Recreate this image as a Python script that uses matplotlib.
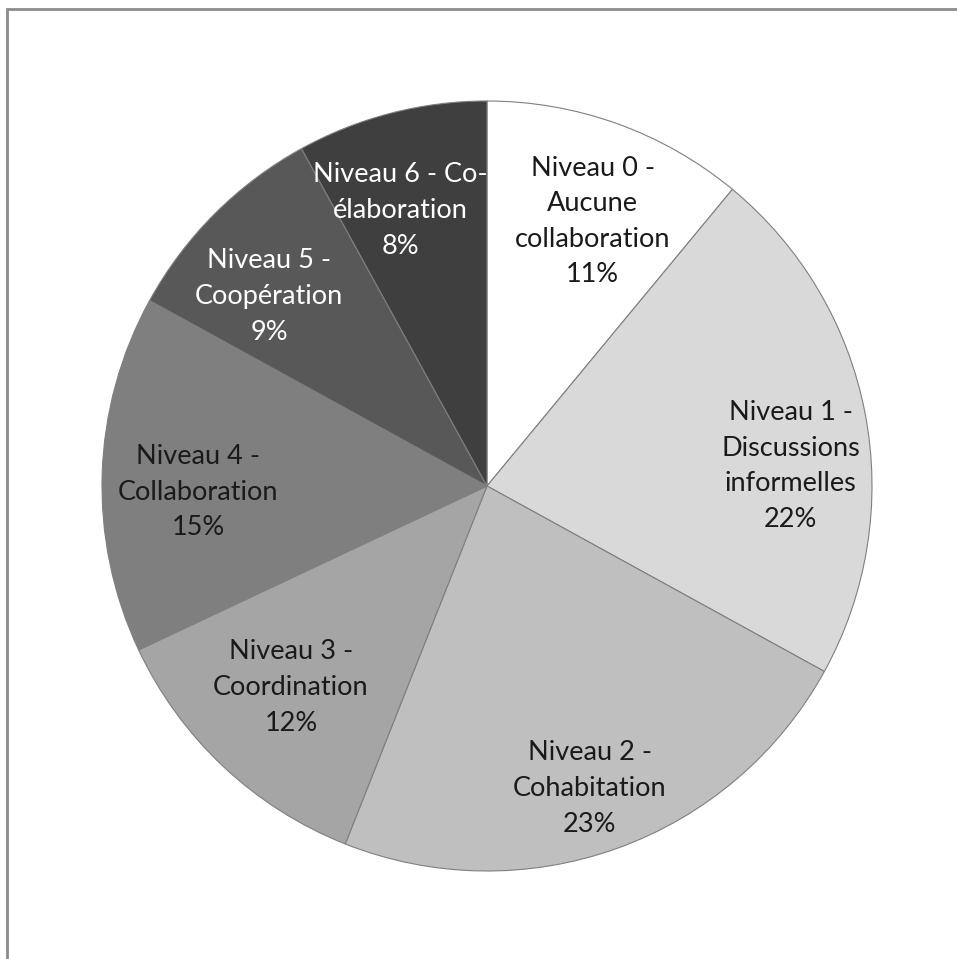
import numpy as np
import matplotlib
matplotlib.use("Agg")
import matplotlib.pyplot as plt
from matplotlib.patches import Rectangle

# === Données
niveaux = ["Niveau 0 -\nAucune\ncollaboration",
           "Niveau 1 -\nDiscussions\ninformelles",
           "Niveau 2 -\nCohabitation",
           "Niveau 3 -\nCoordination",
           "Niveau 4 -\nCollaboration",
           "Niveau 5 -\nCoopération",
           "Niveau 6 - Co-\nélaboration"]
pourcentages = [11, 22, 23, 12, 15, 9, 8]
couleurs = ["#ffffff", "#d9d9d9", "#bfbfbf", "#a5a5a5", "#7f7f7f", "#585858", "#3f3f3f"]
couleurs_texte = ["#1a1a1a", "#1a1a1a", "#1a1a1a", "#1a1a1a", "#1a1a1a", "#ffffff", "#ffffff"]

# position des étiquettes (fraction du rayon, décalage d'angle en degrés)
dist_label = [0.74, 0.79, 0.83, 0.73, 0.75, 0.75, 0.75]
decal_angle = [-2, -7, -1, -1, 3, 4, 3]

plt.rcParams['font.family'] = ['Lato', 'DejaVu Sans']

fig = plt.figure(figsize=(9.57, 9.59), dpi=100)
W, H = 957, 959
cx, cy, r = 487, 486, 385
ax = fig.add_axes([(cx - r) / W, (H - cy - r) / H, 2 * r / W, 2 * r / H])

wedges, _ = ax.pie(pourcentages, colors=couleurs, startangle=90, counterclock=False,
                   wedgeprops=dict(edgecolor="#7f7f7f", linewidth=0.8))

for w, lab, p, tc, d, da in zip(wedges, niveaux, pourcentages, couleurs_texte, dist_label, decal_angle):
    ang = np.deg2rad((w.theta1 + w.theta2) / 2 + da)
    ax.text(d * np.cos(ang), d * np.sin(ang), f"{lab}\n{p}%", ha="center", va="center",
            fontsize=19.5, color=tc, linespacing=1.53)

ax.set_xlim(-1, 1)
ax.set_ylim(-1, 1)
ax.axis("off")

# cadre
fig.add_artist(Rectangle((7 / W, -0.1), 1.2, (H - 9) / H + 0.1, transform=fig.transFigure,
                         fill=False, edgecolor="#8c8c8c", linewidth=2))

fig.savefig("out.png", dpi=100, facecolor="white")
